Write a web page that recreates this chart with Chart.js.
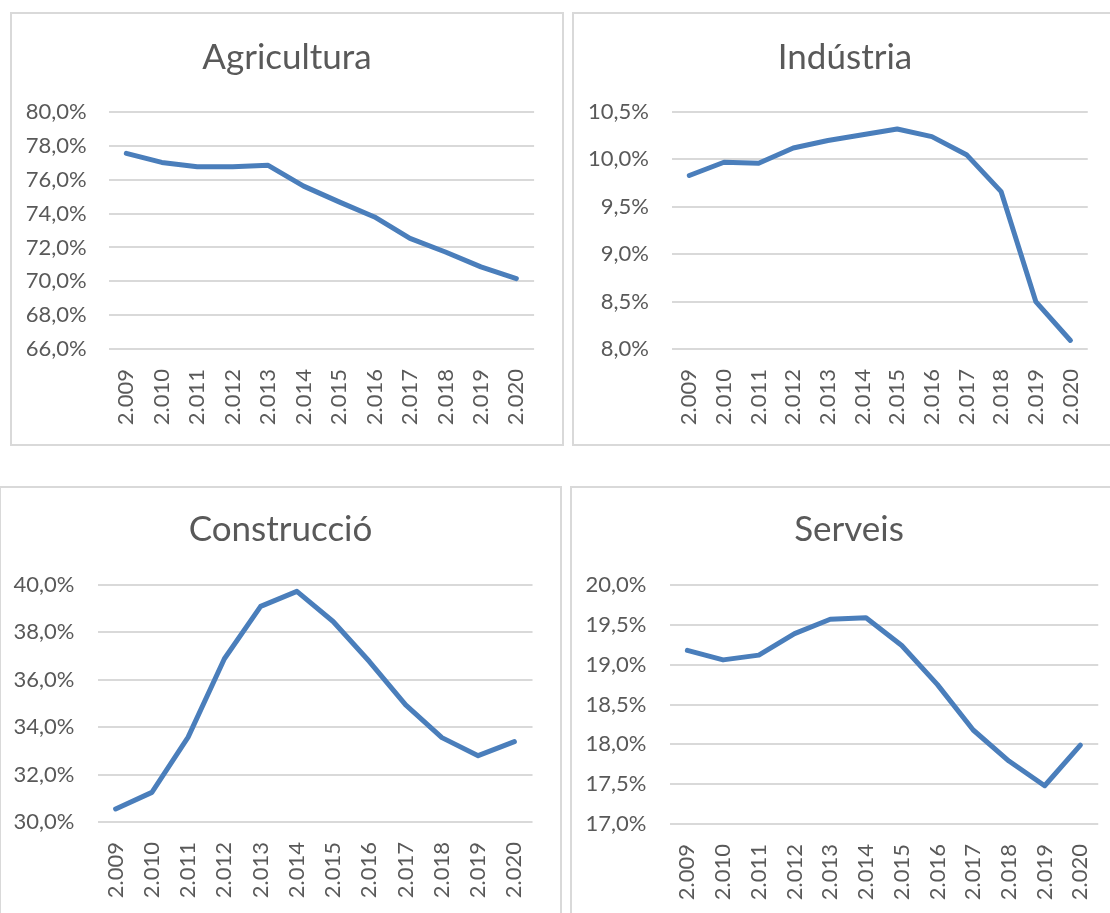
<!DOCTYPE html>
<html>
<head>
<meta charset="utf-8">
<script src="https://cdn.jsdelivr.net/npm/chart.js@4.4.1/dist/chart.umd.min.js"></script>
<style>
    html, body { margin: 0; padding: 0; background: #fff; }
    body { width: 1110px; height: 913px; position: relative; overflow: hidden; }
    .panel { position: absolute; box-sizing: border-box; border: 2px solid #d9d9d9; }
    .panel canvas { position: absolute; left: -2px; top: -2px; }
</style>
</head>
<body>
<div class="panel" id="p1"><canvas id="c1"></canvas></div>
<div class="panel" id="p2"><canvas id="c2"></canvas></div>
<div class="panel" id="p3"><canvas id="c3"></canvas></div>
<div class="panel" id="p4"><canvas id="c4"></canvas></div>
<script>
const years = ['2.009', '2.010', '2.011', '2.012', '2.013', '2.014', '2.015', '2.016', '2.017', '2.018', '2.019', '2.020'];

const agricultura = [77.56, 77.02, 76.76, 76.76, 76.85, 75.62, 74.69, 73.8, 72.53, 71.73, 70.85, 70.16];
const industria = [9.83, 9.97, 9.96, 10.12, 10.2, 10.26, 10.32, 10.24, 10.05, 9.66, 8.5, 8.09];
const construccio = [30.55, 31.25, 33.58, 36.89, 39.1, 39.73, 38.46, 36.77, 34.94, 33.56, 32.8, 33.39];
const serveis = [19.18, 19.06, 19.12, 19.39, 19.57, 19.59, 19.24, 18.75, 18.18, 17.79, 17.48, 17.99];

const titles = ['Agricultura', 'Indústria', 'Construcció', 'Serveis'];
const axisMin = [66, 8, 30, 17];
const axisMax = [80, 10.5, 40, 20];
const axisStep = [2, 0.5, 2, 0.5];

const FONT = 'Lato, "Open Sans", sans-serif';
const GREY = '#595959';

// page boxes and plot areas
const panels = [
    { id: 'c1', box: { x: 10, y: 12, w: 554, h: 434 }, plot: { l: 108.6, r: 534.2, t: 112, b: 349 }, yPad: 22, titleY: 57.6 },
    { id: 'c2', box: { x: 572, y: 12, w: 546, h: 434 }, plot: { l: 672, r: 1090, t: 112, b: 349 }, yPad: 23, titleY: 58 },
    { id: 'c3', box: { x: -1, y: 486, w: 563, h: 434 }, plot: { l: 97.5, r: 533, t: 585, b: 822 }, yPad: 23, titleY: 530 },
    { id: 'c4', box: { x: 570, y: 486, w: 558, h: 434 }, plot: { l: 669.5, r: 1098.6, t: 585, b: 824 }, yPad: 23, titleY: 530 }
];

const series = [agricultura, industria, construccio, serveis];

function pct(v) {
    return v.toFixed(1).replace('.', ',') + '%';
}

// title centred on the whole box, like the spreadsheet does it
const boxTitle = {
    id: 'boxTitle',
    afterDraw(chart, args, opts) {
        const ctx = chart.ctx;
        ctx.save();
        ctx.fillStyle = GREY;
        ctx.font = '35px ' + FONT;
        ctx.textAlign = 'center';
        ctx.textBaseline = 'middle';
        ctx.fillText(opts.text, chart.width / 2, opts.y);
        ctx.restore();
    }
};

panels.forEach((p, i) => {
    const div = document.getElementById('p' + (i + 1));
    div.style.left = p.box.x + 'px';
    div.style.top = p.box.y + 'px';
    div.style.width = p.box.w + 'px';
    div.style.height = p.box.h + 'px';

    const canvas = document.getElementById(p.id);
    canvas.width = p.box.w;
    canvas.height = p.box.h;

    const plotL = p.plot.l - p.box.x;
    const plotR = p.plot.r - p.box.x;
    const plotT = p.plot.t - p.box.y;
    const plotB = p.plot.b - p.box.y;

    new Chart(canvas.getContext('2d'), {
        type: 'line',
        data: {
            labels: years,
            datasets: [{
                data: series[i],
                borderColor: '#4a7ebb',
                borderWidth: 5,
                borderCapStyle: 'round',
                borderJoinStyle: 'round',
                pointRadius: 0,
                tension: 0,
                fill: false
            }]
        },
        options: {
            responsive: false,
            animation: false,
            devicePixelRatio: 1,
            layout: { padding: { left: 0, top: plotT, bottom: 0, right: p.box.w - plotR } },
            plugins: {
                legend: { display: false },
                tooltip: { enabled: false },
                title: { display: false },
                boxTitle: { text: titles[i], y: p.titleY - p.box.y }
            },
            scales: {
                x: {
                    offset: true,
                    grid: { display: false, drawTicks: false },
                    border: { display: false },
                    ticks: {
                        color: GREY,
                        font: { family: FONT, size: 22 },
                        minRotation: 90,
                        maxRotation: 90,
                        padding: 20,
                        autoSkip: false
                    },
                    afterFit: (scale) => { scale.height = p.box.h - plotB; }
                },
                y: {
                    min: axisMin[i],
                    max: axisMax[i],
                    grid: { color: '#d9d9d9', lineWidth: 2, drawTicks: false },
                    border: { display: false },
                    ticks: {
                        stepSize: axisStep[i],
                        color: GREY,
                        font: { family: FONT, size: 22 },
                        padding: p.yPad,
                        callback: (v) => pct(v)
                    },
                    afterFit: (scale) => { scale.width = plotL; }
                }
            }
        },
        plugins: [boxTitle]
    });
});
</script>
</body>
</html>
